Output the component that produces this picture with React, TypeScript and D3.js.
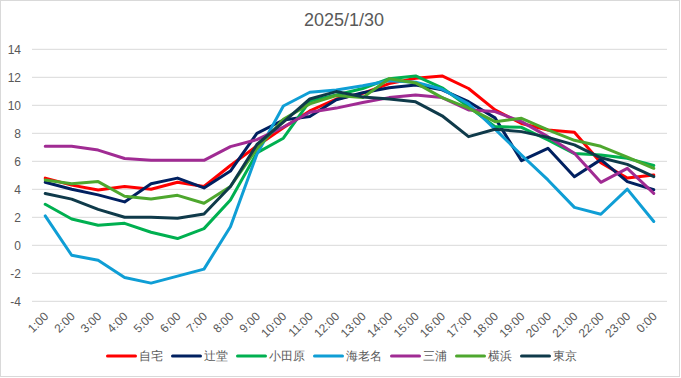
import React from "react";
import * as d3 from "d3";

const hours = ["1:00","2:00","3:00","4:00","5:00","6:00","7:00","8:00","9:00","10:00","11:00","12:00","13:00","14:00","15:00","16:00","17:00","18:00","19:00","20:00","21:00","22:00","23:00","0:00"];
const yTicks = [-4, -2, 0, 2, 4, 6, 8, 10, 12, 14];

const jitaku = [4.8, 4.3, 3.95, 4.2, 4.0, 4.5, 4.2, 5.7, 7.1, 8.4, 9.6, 10.45, 10.85, 11.55, 11.93, 12.1, 11.2, 9.67, 8.7, 8.24, 8.07, 5.9, 4.8, 5.02];
const tsujido = [4.5, 4.0, 3.6, 3.1, 4.4, 4.8, 4.1, 5.3, 8.0, 8.95, 9.2, 10.4, 10.9, 11.25, 11.45, 11.1, 10.26, 9.1, 6.05, 6.93, 4.9, 6.12, 4.55, 3.97];
const odawara = [2.93, 1.88, 1.43, 1.57, 0.93, 0.48, 1.19, 3.24, 6.6, 7.65, 10.3, 10.74, 11.2, 11.9, 12.1, 11.25, 9.9, 8.48, 8.43, 7.52, 6.55, 6.45, 6.21, 5.7];
const ebina = [2.1, -0.71, -1.07, -2.3, -2.7, -2.2, -1.7, 1.33, 6.5, 9.95, 10.93, 11.1, 11.4, 11.75, 11.65, 11.15, 10.1, 8.3, 6.45, 4.67, 2.71, 2.22, 4.01, 1.7];
const miura = [7.07, 7.07, 6.8, 6.2, 6.07, 6.07, 6.07, 7.05, 7.55, 8.45, 9.5, 9.8, 10.2, 10.55, 10.74, 10.55, 9.67, 9.55, 8.83, 7.76, 6.57, 4.5, 5.5, 3.71];
const yokohama = [4.67, 4.4, 4.55, 3.5, 3.3, 3.57, 3.0, 4.2, 6.9, 9.0, 10.1, 10.7, 10.55, 11.9, 11.6, 10.55, 9.8, 8.83, 9.07, 8.24, 7.5, 7.07, 6.3, 5.5];
const tokyo = [3.7, 3.3, 2.57, 2.0, 2.0, 1.93, 2.24, 4.2, 7.2, 8.8, 10.45, 10.98, 10.6, 10.45, 10.25, 9.25, 7.76, 8.29, 8.12, 7.71, 7.17, 6.25, 5.78, 4.9];

const seriesNames = ["自宅", "辻堂", "小田原", "海老名", "三浦", "横浜", "東京"];
const seriesValues = [jitaku, tsujido, odawara, ebina, miura, yokohama, tokyo];
const seriesColors = ["#FF0000", "#002060", "#00B050", "#0F9ED5", "#A02B93", "#4EA72E", "#0F3A4A"];

const W = 681, H = 378;
const FONT = "'Liberation Sans', Arial, sans-serif";

export default function App() {
  const x = d3.scalePoint<string>().domain(hours).range([32, 667]).padding(0.5);
  const y = d3.scaleLinear().domain([-4, 14]).range([301.3, 49.3]);
  const line = d3.line<number>().x((_, i) => x(hours[i]) as number).y(d => y(d));

  // legend layout
  const swatch = 28, gapText = 3, gapItem = 10, charW = 12;
  const widths = seriesNames.map(n => swatch + gapText + n.length * charW);
  const total = widths.reduce((a, b) => a + b, 0) + gapItem * (widths.length - 1);
  let lx = 342 - total / 2;
  const legendItems = seriesNames.map((n, i) => {
    const item = { name: n, color: seriesColors[i], x: lx };
    lx += widths[i] + gapItem;
    return item;
  });
  const ly = 356;

  return (
    <svg width={W} height={H} style={{ position: "absolute", left: 0, top: 0, background: "#fff" }} fontFamily={FONT}>
      <rect x={0.5} y={0.5} width={679} height={376} fill="#fff" stroke="#D9D9D9" />
      <text x={344} y={26} textAnchor="middle" fontSize={18} fill="#595959">2025/1/30</text>
      {yTicks.map(t => (
        <g key={t}>
          <line x1={32} x2={667} y1={y(t)} y2={y(t)} stroke="#D9D9D9" strokeWidth={1} />
          <text x={21} y={y(t)} dy="0.35em" textAnchor="end" fontSize={12} fill="#595959">{t}</text>
        </g>
      ))}
      {hours.map(h => (
        <text key={h} transform={`translate(${(x(h) as number) + 1},${314}) rotate(-45)`} dy="0.35em" textAnchor="end" fontSize={12} fill="#595959">{h}</text>
      ))}
      {seriesValues.map((vals, i) => (
        <path key={seriesNames[i]} d={line(vals) || ""} fill="none" stroke={seriesColors[i]} strokeWidth={3} strokeLinejoin="round" strokeLinecap="round" />
      ))}
      {legendItems.map(it => (
        <g key={it.name}>
          <line x1={it.x} x2={it.x + swatch} y1={ly} y2={ly} stroke={it.color} strokeWidth={3} strokeLinecap="round" />
          <text x={it.x + swatch + gapText} y={ly} dy="0.35em" fontSize={12} fill="#595959">{it.name}</text>
        </g>
      ))}
    </svg>
  );
}
